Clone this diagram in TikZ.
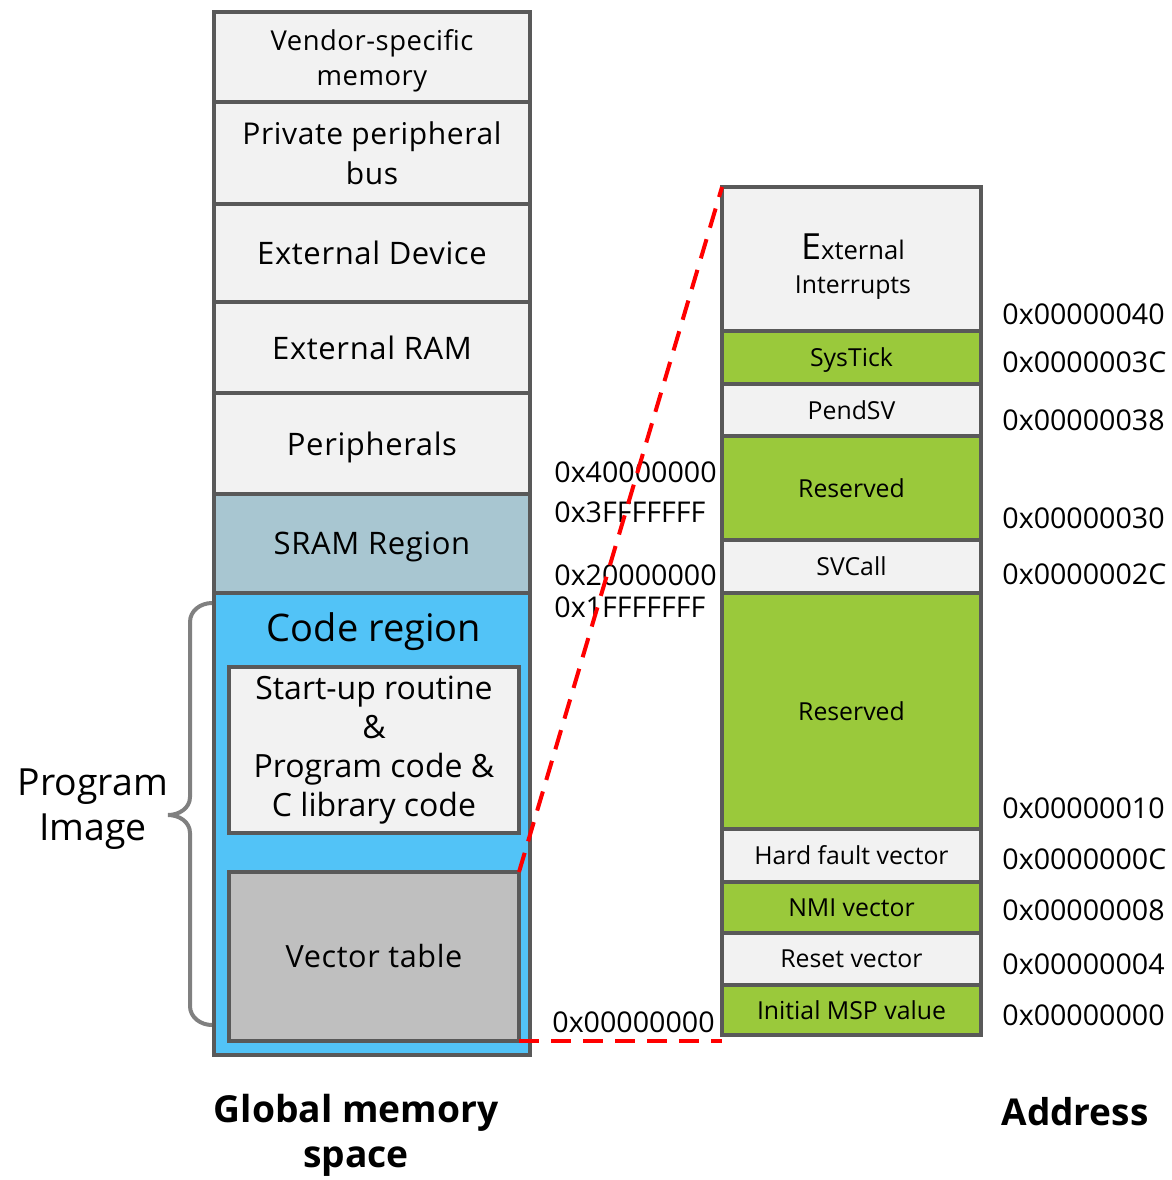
\documentclass[tikz,border=0pt]{standalone}
\usepackage{fontspec}
\setmainfont{Open Sans}
\newfontfamily\spacedfont[LetterSpace=2]{Open Sans}
\usepackage{xcolor}
\definecolor{cellgray}{RGB}{242,242,242}
\definecolor{vecgreen}{RGB}{154,201,59}
\definecolor{sramblue}{RGB}{168,198,209}
\definecolor{codeblue}{RGB}{82,195,247}
\definecolor{vecgray}{RGB}{191,191,191}
\definecolor{framegray}{RGB}{89,89,89}
\definecolor{bracegray}{RGB}{128,128,128}
\usepackage{tikz}
\usetikzlibrary{positioning}
\tikzset{
  memblock/.style={draw=framegray,line width=2pt,fill=cellgray,outer sep=0pt,inner sep=0pt,align=center,minimum width=158pt,font=\spacedfont\fontsize{15.5}{20}\selectfont},
  vecblock/.style={memblock,minimum width=129.5pt,font=\fontsize{12.4}{15}\selectfont},
  addr/.style={anchor=west,inner sep=0pt,font=\fontsize{14.3}{17}\selectfont},
  reddash/.style={red,line width=2pt,dash pattern=on 10pt off 6pt},
}

\begin{document}
\begin{tikzpicture}[x=0.5pt,y=-0.5pt]
\useasboundingbox (0,0) rectangle (1172,1180);
% global memory space
\node[memblock,minimum height=45pt] (vendor) at (372,57) {};
\node[align=center,font=\spacedfont\fontsize{13.7}{17.5}\selectfont] (vendorlabel) at (372,61) {Vendor-specific\\memory};
\node[memblock,minimum height=51pt,font=\spacedfont\fontsize{15}{20}\selectfont] (ppb) at (372,153) {Private peripheral\\bus};
\node[memblock,minimum height=49pt] (extdev) at (372,253) {External Device};
\node[memblock,minimum height=45.5pt] (extram) at (372,347.5) {External RAM};
\node[memblock,minimum height=50.5pt,text depth=0pt] (periph) at (372,443.5) {Peripherals};
\node[memblock,minimum height=49.5pt,fill=sramblue,text depth=0pt] (sram) at (372,543.5) {SRAM Region};
\node[memblock,minimum height=231pt,fill=codeblue] (codereg) at (372,824) {};
\node[font=\fontsize{19}{22}\selectfont] (codelabel) at (374,632) {Code region};
\node[memblock,minimum width=145pt,minimum height=83pt,font=\fontsize{16}{19.5}\selectfont] (startup) at (374,750) {Start-up routine\\\&\\Program code \&\\C library code};
\node[memblock,minimum width=145pt,minimum height=84.5pt,fill=vecgray,font=\spacedfont\fontsize{15.3}{18}\selectfont] (vectab) at (374,956.5) {Vector table};

% program image brace
\draw[bracegray,line width=2pt] (212,603) to[out=180,in=90] (190,622) -- (190,797)
  to[out=-90,in=0] (168,815) to[out=0,in=90] (190,833) -- (190,1006) to[out=-90,in=180] (212,1025);
\node[align=center,font=\fontsize{18.7}{22.5}\selectfont] (progimg) at (93,809) {Program\\Image};

% vector table
\node[vecblock,minimum height=72pt] (extint) at (851.5,259) {};
\node[align=center,font=\fontsize{12.4}{15}\selectfont] (extintlabel) at (853,267) {{\fontsize{18}{18}\selectfont E}{\fontsize{12.8}{14}\selectfont xternal}\\[2pt]Interrupts};
\node[vecblock,minimum height=26.5pt,fill=vecgreen,text depth=0pt] (systick) at (851.5,357.5) {SysTick};
\node[vecblock,minimum height=26pt] (pendsv) at (851.5,410) {PendSV};
\node[vecblock,minimum height=52pt,fill=vecgreen] (resA) at (851.5,488) {Reserved};
\node[vecblock,minimum height=26.5pt] (svcall) at (851.5,566.5) {SVCall};
\node[vecblock,minimum height=118pt,fill=vecgreen] (resB) at (851.5,711) {Reserved};
\node[vecblock,minimum height=26.5pt] (hardf) at (851.5,855.5) {Hard fault vector};
\node[vecblock,minimum height=25.5pt,fill=vecgreen] (nmi) at (851.5,907.5) {NMI vector};
\node[vecblock,minimum height=26pt] (reset) at (851.5,959) {Reset vector};
\node[vecblock,minimum height=25pt,fill=vecgreen] (msp) at (851.5,1010) {Initial MSP value};

% addresses
\node[addr] (a40000000) at (554,472) {0x40000000};
\node[addr] (a3fffffff) at (554,512) {0x3FFFFFFF};
\node[addr] (a20000000) at (554,575) {0x20000000};
\node[addr] (a1fffffff) at (554,607) {0x1FFFFFFF};
\node[addr] (azero) at (552,1022) {0x00000000};

\node[addr] (v40) at (1002,314) {0x00000040};
\node[addr] (v3c) at (1002,362) {0x0000003C};
\node[addr] (v38) at (1002,420) {0x00000038};
\node[addr] (v30) at (1002,518) {0x00000030};
\node[addr] (v2c) at (1002,574) {0x0000002C};
\node[addr] (v10) at (1002,808) {0x00000010};
\node[addr] (v0c) at (1002,859) {0x0000000C};
\node[addr] (v08) at (1002,910) {0x00000008};
\node[addr] (v04) at (1002,964) {0x00000004};
\node[addr] (v00) at (1002,1015) {0x00000000};

% zoom lines
\draw[reddash] (vectab.north east) -- (extint.north west);
\draw[reddash] (vectab.south east) -- (vectab.south east -| msp.west);

% captions
\node[align=center,font=\fontsize{18.6}{22.5}\bfseries\selectfont] (globcap) at (356,1135) {Global memory\\space};
\node[font=\fontsize{18.5}{20}\bfseries\selectfont] (addrcap) at (1075,1112) {Address};
\end{tikzpicture}
\end{document}
